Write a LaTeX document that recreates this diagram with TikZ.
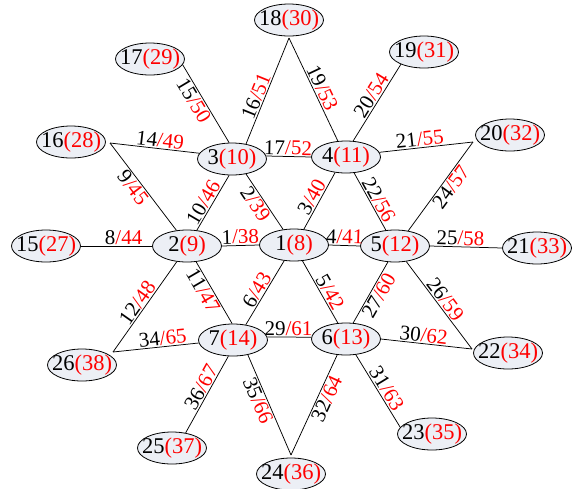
\documentclass[tikz,border=0pt]{standalone}
\usepackage{fontspec}
\setmainfont{Liberation Serif}
\usetikzlibrary{shapes.geometric}
\definecolor{nodefill}{RGB}{236,239,245}
\newcommand\vlab[2]{\makebox[0pt]{#1\textcolor{red}{(#2)}}}
\newcommand\elab[2]{#1\textcolor{red}{/#2}}
\begin{document}
\begin{tikzpicture}[x=1pt,y=-1pt,
  vtx/.style={ellipse,draw=black,line width=0.8pt,fill=nodefill,minimum width=69pt,minimum height=32pt,inner sep=0pt,font=\fontsize{22.5}{22.5}\selectfont},
  edge/.style={line width=0.75pt,black},
  lab/.style={sloped,inner sep=1.2pt,font=\fontsize{21}{21}\selectfont}]
\useasboundingbox (0,0) rectangle (576,488);
% nodes
\node[vtx] (n1) at (294,245) {\vlab{1}{8}};
\node[vtx] (n2) at (187,246) {\vlab{2}{9}};
\node[vtx] (n3) at (232,159) {\vlab{3}{10}};
\node[vtx] (n4) at (346,157) {\vlab{4}{11}};
\node[vtx] (n5) at (395,246) {\vlab{5}{12}};
\node[vtx] (n6) at (346,339) {\vlab{6}{13}};
\node[vtx] (n7) at (233,340) {\vlab{7}{14}};
\node[vtx] (n15) at (46,246) {\vlab{15}{27}};
\node[vtx] (n16) at (71,142) {\vlab{16}{28}};
\node[vtx] (n17) at (150,59) {\vlab{17}{29}};
\node[vtx] (n18) at (289,20) {\vlab{18}{30}};
\node[vtx] (n19) at (424,52) {\vlab{19}{31}};
\node[vtx] (n20) at (510,135) {\vlab{20}{32}};
\node[vtx] (n21) at (537,248) {\vlab{21}{33}};
\node[vtx] (n22) at (508,353) {\vlab{22}{34}};
\node[vtx] (n23) at (432,434) {\vlab{23}{35}};
\node[vtx] (n24) at (291,474) {\vlab{24}{36}};
\node[vtx] (n25) at (172,448) {\vlab{25}{37}};
\node[vtx] (n26) at (82,365) {\vlab{26}{38}};
% corner points
\coordinate (c16) at (110,143);
\coordinate (c18) at (289,38);
\coordinate (c20) at (473,142);
\coordinate (c22) at (472,349);
\coordinate (c24) at (291,455);
\coordinate (c26) at (113,352);
% edges
\draw[edge] (n2.0) -- node[lab,above,pos=.5]{\elab{1}{38}} (n1.180);
\draw[edge] (n3.313) -- node[lab,below,pos=.45]{\elab{2}{39}} (n1.125);
\draw[edge] (n1.58) -- node[lab,above,pos=.49]{\elab{3}{40}} (n4.235);
\draw[edge] (n1.0) -- node[lab,above,pos=.5]{\elab{4}{41}} (n5.180);
\draw[edge] (n1.298) -- node[lab,above,pos=.57]{\elab{5}{42}} (n6.117);
\draw[edge] (n7.50) -- node[lab,above,pos=.48]{\elab{6}{43}} (n1.238);
\draw[edge] (n15.0) -- node[lab,above,pos=.6]{\elab{8}{44}} (n2.180);
\draw[edge] (c16) -- node[lab,below,pos=.45]{\elab{9}{45}} (n2.124);
\draw[edge] (n2.58) -- node[lab,above,pos=.43]{\elab{10}{46}} (n3.260);
\draw[edge] (n2.300) -- node[lab,below,pos=.4]{\elab{11}{47}} (n7.93);
\draw[edge] (c26) -- node[lab,above,pos=.49]{\elab{12}{48}} (n2.237);
\draw[edge] (c16) -- node[lab,above,pos=.55]{\elab{14}{49}} (n3.170);
\draw[edge] (n17.-10) -- node[lab,below,pos=.4]{\elab{15}{50}} (n3.100);
\draw[edge] (n3.47) -- node[lab,above,pos=.42]{\elab{16}{51}} (c18);
\draw[edge] (n3.5) -- node[lab,above,pos=.48]{\elab{17}{52}} (n4.180);
\draw[edge] (c18) -- node[lab,above,pos=.52]{\elab{19}{53}} (n4.117);
\draw[edge] (n4.66) -- node[lab,above,pos=.53]{\elab{20}{54}} (n19.208);
\draw[edge] (n4.8) -- node[lab,above,pos=.44]{\elab{21}{55}} (c20);
\draw[edge] (n4.297) -- node[lab,above,pos=.54]{\elab{22}{56}} (n5.120);
\draw[edge] (n5.49) -- node[lab,below,pos=.55]{\elab{24}{57}} (c20);
\draw[edge] (n5.0) -- node[lab,above,pos=.42]{\elab{25}{58}} (n21.180);
\draw[edge] (n5.306) -- node[lab,above,pos=.49]{\elab{26}{59}} (c22);
\draw[edge] (n6.66) -- node[lab,below,pos=.52]{\elab{27}{60}} (n5.246);
\draw[edge] (n7.5) -- node[lab,above,pos=.48]{\elab{29}{61}} (n6.177);
\draw[edge] (n6.0) -- node[lab,above,pos=.46]{\elab{30}{62}} (c22);
\draw[edge] (n6.302) -- node[lab,above,pos=.53]{\elab{31}{63}} (n23.168);
\draw[edge] (c24) -- node[lab,below,pos=.6]{\elab{32}{64}} (n6.241);
\draw[edge] (c26) -- node[lab,above,pos=.59]{\elab{34}{65}} (n7.185);
\draw[edge] (n7.315) -- node[lab,below,pos=.42]{\elab{35}{66}} (c24);
\draw[edge] (n25.48) -- node[lab,above,pos=.54]{\elab{36}{67}} (n7.254);
\end{tikzpicture}
\end{document}
